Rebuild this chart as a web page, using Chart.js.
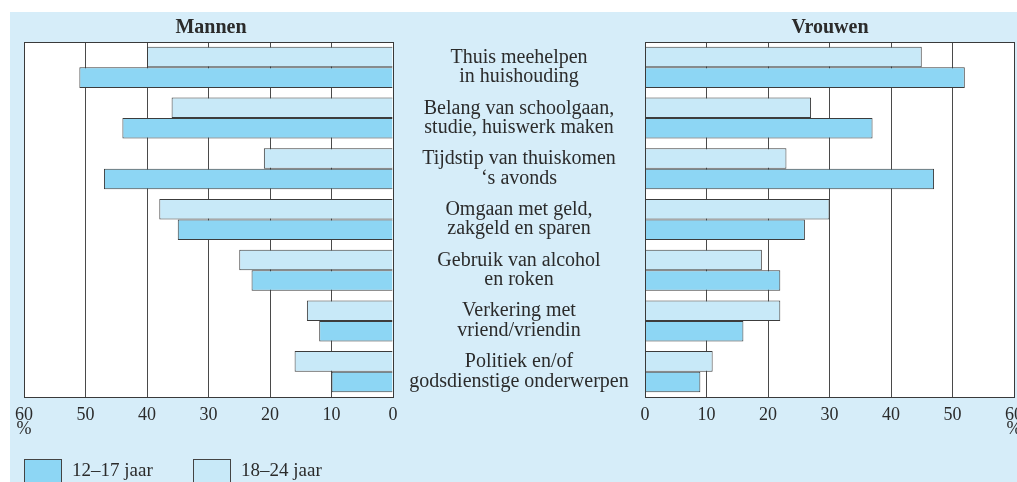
<!DOCTYPE html>
<html>
<head>
<meta charset="utf-8">
<script src="https://cdn.jsdelivr.net/npm/chart.js@4.4.1/dist/chart.umd.min.js"></script>
<style>
  body { margin: 0; background: #fff; width: 1017px; height: 482px; overflow: hidden; position: relative;
         font-family: "Liberation Serif", serif; color: #2b2b2b; }
  #bg { position: absolute; left: 10px; top: 12px; width: 1007px; height: 470px; background: #d6edf9; }
  canvas { position: absolute; top: 0; }
  #left { left: 0; }
  #right { left: 621px; }
  .title { position: absolute; top: 15px; font-weight: bold; font-size: 20px; transform: translateX(-50%); }
  .pct { position: absolute; top: 418px; font-size: 18px; transform: translateX(-50%); }
  .leg { position: absolute; top: 459px; font-size: 19px; }
  .leg span.box { position: absolute; left: 0; top: 0; width: 38px; height: 30px; border: 1px solid #444; box-sizing: border-box; }
  .leg span.txt { position: absolute; left: 48px; top: 0; white-space: nowrap; }
</style>
</head>
<body>
<div id="bg"></div>
<canvas id="left" width="645" height="482"></canvas>
<canvas id="right" width="420" height="482"></canvas>
<div class="title" style="left:211px">Mannen</div>
<div class="title" style="left:830px">Vrouwen</div>
<div class="pct" style="left:24px">%</div>
<div class="pct" style="left:1014px">%</div>
<div class="leg" style="left:24px"><span class="box" style="background:#8dd6f4"></span><span class="txt">12–17 jaar</span></div>
<div class="leg" style="left:193px"><span class="box" style="background:#c8e9f8"></span><span class="txt">18–24 jaar</span></div>
<script>
const categories = [
  ["Thuis meehelpen", "in huishouding"],
  ["Belang van schoolgaan,", "studie, huiswerk maken"],
  ["Tijdstip van thuiskomen", "‘s avonds"],
  ["Omgaan met geld,", "zakgeld en sparen"],
  ["Gebruik van alcohol", "en roken"],
  ["Verkering met", "vriend/vriendin"],
  ["Politiek en/of", "godsdienstige onderwerpen"]
];
const mannen1217 = [51, 44, 47, 35, 23, 12, 10];
const mannen1824 = [40, 36, 21, 38, 25, 14, 16];
const vrouwen1217 = [52, 37, 47, 26, 22, 16, 9];
const vrouwen1824 = [45, 27, 23, 30, 19, 22, 11];
const xTicks = [0, 10, 20, 30, 40, 50, 60];

const DARK = "#8dd6f4", LIGHT = "#c8e9f8", EDGE = "#3c3c3c";
const serif = '"Liberation Serif", serif';

// white plot area with a frame round it
const plotFrame = {
  id: "plotFrame",
  beforeDraw(chart) {
    const a = chart.chartArea, c = chart.ctx;
    c.save(); c.fillStyle = "#fff";
    c.fillRect(a.left, a.top, a.right - a.left, a.bottom - a.top);
    c.restore();
  },
  afterDraw(chart) {
    const a = chart.chartArea, c = chart.ctx;
    c.save(); c.strokeStyle = "#3a3a3a"; c.lineWidth = 1;
    c.strokeRect(Math.round(a.left) + 0.5, Math.round(a.top) + 0.5,
                 Math.round(a.right - a.left), Math.round(a.bottom - a.top));
    c.restore();
  }
};

// category labels sit centred between the panels (393..645)
const mc = document.createElement("canvas").getContext("2d");
mc.font = "20px " + serif;
let widest = 0;
categories.forEach(l => l.forEach(s => { widest = Math.max(widest, mc.measureText(s).width); }));
const labelPad = 126 - widest / 2;

function datasets(a, b) {
  return [
    { label: "18–24 jaar", data: b, backgroundColor: LIGHT, borderColor: EDGE, borderWidth: 1 },
    { label: "12–17 jaar", data: a, backgroundColor: DARK, borderColor: EDGE, borderWidth: 1 }
  ];
}

function xScale(reverse) {
  return {
    type: "linear", min: 0, max: 60, reverse: reverse,
    afterBuildTicks: s => { s.ticks = xTicks.map(v => ({ value: v })); },
    afterFit: s => { s.height = 30; },
    grid: { color: "#4a4a4a", lineWidth: 1, drawTicks: false },
    border: { display: true, color: "#3a3a3a" },
    ticks: { color: "#2b2b2b", padding: 7, font: { family: serif, size: 18 } }
  };
}

const common = {
  indexAxis: "y",
  responsive: false,
  animation: false,
  plugins: { legend: { display: false }, tooltip: { enabled: false } },
  datasets: { bar: { categoryPercentage: 0.81, barPercentage: 1 } }
};

new Chart(document.getElementById("left"), {
  type: "bar",
  data: { labels: categories, datasets: datasets(mannen1217, mannen1824) },
  options: Object.assign({}, common, {
    layout: { padding: { left: 24, right: 0, top: 42, bottom: 55 } },
    scales: {
      x: xScale(true),
      y: {
        position: "right",
        afterFit: s => { s.width = 252; },
        grid: { display: false, drawTicks: false },
        border: { display: false },
        ticks: { autoSkip: false, crossAlign: "center", padding: labelPad, color: "#2b2b2b",
                 font: { family: serif, size: 20, lineHeight: 0.97 } }
      }
    }
  }),
  plugins: [plotFrame]
});

new Chart(document.getElementById("right"), {
  type: "bar",
  data: { labels: categories, datasets: datasets(vrouwen1217, vrouwen1824) },
  options: Object.assign({}, common, {
    layout: { padding: { left: 24, right: 27, top: 42, bottom: 55 } },
    scales: {
      x: xScale(false),
      y: { display: false }
    }
  }),
  plugins: [plotFrame]
});
</script>
</body>
</html>
